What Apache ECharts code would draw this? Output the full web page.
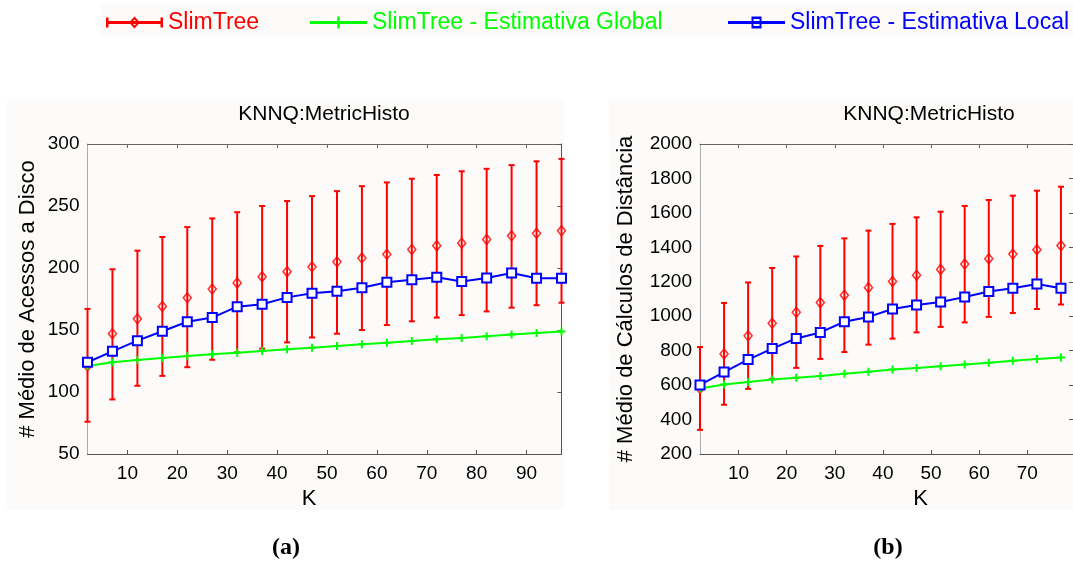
<!DOCTYPE html>
<html>
<head>
<meta charset="utf-8">
<script src="https://cdn.jsdelivr.net/npm/echarts@6.0.0/dist/echarts.min.js"></script>
<style>
  html, body { margin: 0; padding: 0; background: #ffffff; }
  #chart { width: 1073px; height: 565px; }
</style>
</head>
<body>
<div id="chart"></div>
<script>
// ---- (a) disk accesses per query ----
const kDisk = [2, 7, 12, 17, 22, 27, 32, 37, 42, 47, 52, 57, 62, 67, 72, 77, 82, 87, 92, 97];
const diskMean = [121, 147, 159, 169, 176, 183, 188, 193, 197, 201, 205, 208, 211, 215, 218, 220, 223, 226, 228, 230];
const diskHigh = [167, 199, 214, 225, 233, 240, 245, 250, 254, 258, 262, 266, 269, 272, 275, 278, 280, 283, 286, 288];
const diskLow  = [76, 94, 105, 113, 120, 126, 132, 135, 140, 144, 147, 150, 154, 157, 160, 162, 165, 168, 170, 172];
const diskGlobal = [121, 124, 125.8, 127.4, 129, 130.4, 131.7, 133.1, 134.4, 135.7, 137.1, 138.5, 139.8, 141.1, 142.5, 143.6, 145, 146.3, 147.5, 148.8];
const diskLocal  = [124, 132.8, 141.4, 149, 156.7, 160, 168.8, 170.7, 176.3, 179.6, 181.2, 184.1, 188.5, 190.6, 192.5, 189.2, 192, 196, 191.7, 191.7];

// ---- (b) distance computations per query ----
const kDist = [2, 7, 12, 17, 22, 27, 32, 37, 42, 47, 52, 57, 62, 67, 72, 77];
const distMean = [580, 781, 886, 959, 1023, 1079, 1122, 1166, 1202, 1238, 1272, 1303, 1334, 1361, 1386, 1410];
const distHigh = [821, 1077, 1196, 1280, 1347, 1408, 1452, 1497, 1536, 1574, 1607, 1640, 1675, 1700, 1729, 1752];
const distLow  = [340, 486, 578, 637, 700, 752, 792, 835, 870, 906, 938, 964, 996, 1019, 1042, 1068];
const distGlobal = [580, 603, 618, 632, 643, 653, 666, 678, 690, 700, 709, 719, 730, 742, 752, 761];
const distLocal  = [601, 676, 748, 812, 871, 906, 968, 996, 1042, 1065, 1083, 1112, 1143, 1162, 1187, 1162];

// ---- tick labels ----
const kTicksDisk = [10, 20, 30, 40, 50, 60, 70, 80, 90];
const kTicksDist = [10, 20, 30, 40, 50, 60, 70];

const NAME_SLIM = 'SlimTree';
const NAME_GLOBAL = 'SlimTree - Estimativa Global';
const NAME_LOCAL = 'SlimTree - Estimativa Local';
const RED = '#ff0000', GREEN = '#00ff00', BLUE = '#0000ff';
const FONT = 'Liberation Sans, Arial, sans-serif';
const PANEL = '#fcfbf9';

const chart = echarts.init(document.getElementById('chart'), null, { renderer: 'canvas' });

// vertical bar with caps between [k, low, high]
function errorBar(params, api) {
  const k = api.value(0);
  const lo = api.coord([k, api.value(1)]);
  const hi = api.coord([k, api.value(2)]);
  const cap = 3;
  const style = { stroke: RED, lineWidth: 2 };
  return {
    type: 'group',
    children: [
      { type: 'line', shape: { x1: lo[0], y1: lo[1], x2: hi[0], y2: hi[1] }, style },
      { type: 'line', shape: { x1: hi[0] - cap, y1: hi[1], x2: hi[0] + cap, y2: hi[1] }, style },
      { type: 'line', shape: { x1: lo[0] - cap, y1: lo[1], x2: lo[0] + cap, y2: lo[1] }, style }
    ]
  };
}

const plusSymbol = 'path://M3,0H5V8H3Z M0,3H8V5H0Z';

function panelSeries(xi, yi, ks, mean, low, high, glob, local) {
  return [
    {
      name: NAME_SLIM, type: 'custom', xAxisIndex: xi, yAxisIndex: yi,
      renderItem: errorBar, itemStyle: { color: RED },
      encode: { x: 0, y: [1, 2] },
      data: ks.map((k, i) => [k, low[i], high[i]]), z: 2
    },
    {
      name: NAME_SLIM, type: 'scatter', xAxisIndex: xi, yAxisIndex: yi,
      symbol: 'diamond', symbolSize: [8, 10],
      itemStyle: { color: 'rgba(255,255,255,0)', borderColor: RED, borderWidth: 1.6 },
      data: ks.map((k, i) => [k, mean[i]]), z: 3
    },
    {
      name: NAME_GLOBAL, type: 'line', xAxisIndex: xi, yAxisIndex: yi,
      symbol: plusSymbol, symbolSize: 8, showAllSymbol: true,
      itemStyle: { color: GREEN }, lineStyle: { color: GREEN, width: 2 },
      data: ks.map((k, i) => [k, glob[i]]), z: 4
    },
    {
      name: NAME_LOCAL, type: 'line', xAxisIndex: xi, yAxisIndex: yi,
      symbol: 'emptyRect', symbolSize: 9, showAllSymbol: true,
      itemStyle: { color: BLUE, borderWidth: 1.5 }, lineStyle: { color: BLUE, width: 2 },
      data: ks.map((k, i) => [k, local[i]]), z: 5
    }
  ];
}

function bottomAxis(grid, max, ticks, padding) {
  return {
    gridIndex: grid, type: 'value', min: 2, max: max, position: 'bottom',
    axisLine: { onZero: false, lineStyle: { color: '#555', width: 1 } },
    axisTick: { inside: true, length: 4, customValues: ticks, lineStyle: { color: '#555' } },
    axisLabel: { customValues: ticks, color: '#000', fontSize: 19, fontFamily: FONT, margin: 10 },
    splitLine: { show: false },
    name: 'K', nameLocation: 'middle', nameGap: 32,
    nameTextStyle: { color: '#000', fontSize: 22, fontFamily: FONT, padding: padding }
  };
}
function topAxis(grid, max, ticks) {
  return {
    gridIndex: grid, type: 'value', min: 2, max: max, position: 'top',
    axisLine: { onZero: false, lineStyle: { color: '#666', width: 1 } },
    axisTick: { inside: true, length: 4, customValues: ticks, lineStyle: { color: '#666' } },
    axisLabel: { show: false }, splitLine: { show: false }
  };
}
function leftAxis(grid, min, max, step, name, gap) {
  return {
    gridIndex: grid, type: 'value', min: min, max: max, interval: step, position: 'left',
    axisLine: { show: true, onZero: false, lineStyle: { color: '#aaa', width: 1 } },
    axisTick: { show: false },
    axisLabel: { color: '#000', fontSize: 19, fontFamily: FONT, margin: 8, formatter: v => String(v) },
    splitLine: { show: false },
    name: name, nameLocation: 'middle', nameRotate: 90, nameGap: gap,
    nameTextStyle: { color: '#000', fontSize: 22, fontFamily: FONT }
  };
}
function rightAxis(grid, min, max, step) {
  return {
    gridIndex: grid, type: 'value', min: min, max: max, interval: step, position: 'right',
    axisLine: { show: true, onZero: false, lineStyle: { color: '#555', width: 1 } },
    axisTick: { show: true, inside: true, length: 4, lineStyle: { color: '#555' } },
    axisLabel: { show: false }, splitLine: { show: false }
  };
}

function legendAt(left, name, color, icon) {
  return {
    left: left, top: 6, orient: 'horizontal', selectedMode: false,
    itemWidth: 57, itemHeight: 12,
    itemStyle: { borderWidth: 0 },
    textStyle: { color: color, fontSize: 23, fontFamily: FONT },
    data: [{ name: name, icon: icon }]
  };
}

const option = {
  animation: false,
  backgroundColor: '#ffffff',
  graphic: [
    { type: 'rect', silent: true, z: -100, shape: { x: 101, y: 4, width: 972, height: 32 }, style: { fill: PANEL } },
    { type: 'rect', silent: true, z: -100, shape: { x: 7, y: 99, width: 557, height: 411 }, style: { fill: PANEL } },
    { type: 'rect', silent: true, z: -100, shape: { x: 609, y: 99, width: 464, height: 411 }, style: { fill: PANEL } },
    { type: 'text', silent: true, style: { text: 'KNNQ:MetricHisto', x: 324, y: 114, align: 'center', verticalAlign: 'middle', fill: '#000', font: '21px ' + FONT } },
    { type: 'text', silent: true, style: { text: 'KNNQ:MetricHisto', x: 929, y: 114, align: 'center', verticalAlign: 'middle', fill: '#000', font: '21px ' + FONT } },
    { type: 'text', silent: true, style: { text: '(a)', x: 286, y: 548, align: 'center', verticalAlign: 'middle', fill: '#000', font: 'bold 24px Liberation Serif, Times New Roman, serif' } },
    { type: 'text', silent: true, style: { text: '(b)', x: 888, y: 548, align: 'center', verticalAlign: 'middle', fill: '#000', font: 'bold 24px Liberation Serif, Times New Roman, serif' } }
  ],
  legend: [
    legendAt(101, NAME_SLIM, RED,
      'path://M0,1H2.5V4.5H54.5V1H57V11H54.5V7.5H2.5V11H0Z M28.5,0L34,6L28.5,12L23,6Z M28.5,3L25.5,6L28.5,9L31.5,6Z'),
    legendAt(305, NAME_GLOBAL, GREEN,
      'path://M0,4.5H57V7.5H0Z M27.25,0H29.75V12H27.25Z'),
    legendAt(723, NAME_LOCAL, BLUE,
      'path://M0,4.5H57V7.5H0Z M23.5,0H33.5V12H23.5Z M25.5,2.5V9.5H31.5V2.5Z')
  ],
  grid: [
    { left: 87.5, top: 144, width: 474, height: 310 },
    { left: 700, top: 144, width: 380, height: 310 }
  ],
  xAxis: [
    bottomAxis(0, 97, kTicksDisk, [0, 31, 0, 0]),
    topAxis(0, 97, kTicksDisk),
    bottomAxis(1, 79.5, kTicksDist, [0, 0, 0, 68]),
    topAxis(1, 79.5, kTicksDist)
  ],
  yAxis: [
    leftAxis(0, 50, 300, 50, '# Médio de Acessos a Disco', 49),
    rightAxis(0, 50, 300, 50),
    leftAxis(1, 200, 2000, 200, '# Médio de Cálculos de Distância', 63),
    rightAxis(1, 200, 2000, 200)
  ],
  series: [
    ...panelSeries(0, 0, kDisk, diskMean, diskLow, diskHigh, diskGlobal, diskLocal),
    ...panelSeries(2, 2, kDist, distMean, distLow, distHigh, distGlobal, distLocal)
  ]
};

chart.setOption(option);
</script>
</body>
</html>
